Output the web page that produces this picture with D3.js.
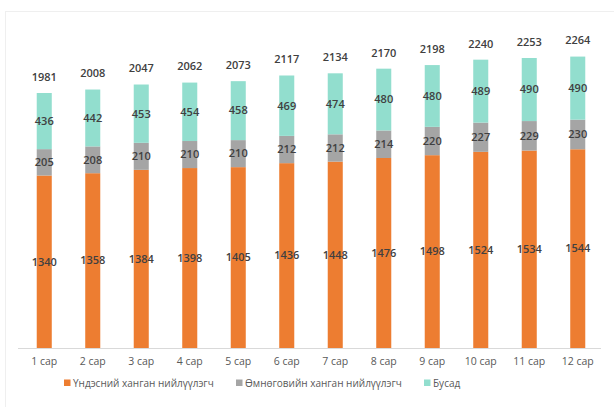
<!DOCTYPE html>
<html>
<head>
<meta charset="utf-8">
<script src="https://cdn.jsdelivr.net/npm/d3@7"></script>
<style>
  body { margin: 0; background: #fff; }
  text { font-family: "Open Sans", "Noto Sans", sans-serif; }
</style>
</head>
<body>
<div id="chart"></div>
<script>
const months = ["1 сар", "2 сар", "3 сар", "4 сар", "5 сар", "6 сар",
  "7 сар", "8 сар", "9 сар", "10 сар", "11 сар", "12 сар"];
const national = [1340, 1358, 1384, 1398, 1405, 1436, 1448, 1476, 1498, 1524, 1534, 1544];
const southGobi = [205, 208, 210, 210, 210, 212, 212, 214, 220, 227, 229, 230];
const other = [436, 442, 453, 454, 458, 469, 474, 480, 480, 489, 490, 490];
const totals = [1981, 2008, 2047, 2062, 2073, 2117, 2134, 2170, 2198, 2240, 2253, 2264];
const seriesNames = ["Үндэсний ханган нийлүүлэгч", "Өмнөговийн ханган нийлүүлэгч", "Бусад"];
const seriesColors = ["#ed7d31", "#a5a5a5", "#92dece"];

const width = 614, height = 407;
const baseY = 348;

const rows = months.map((m, i) => ({
  month: m, s0: national[i], s1: southGobi[i], s2: other[i], total: totals[i]
}));
const stack = d3.stack().keys(["s0", "s1", "s2"])(rows);

const x = d3.scaleBand().domain(months).range([20, 602]).paddingInner(0.69).paddingOuter(0.345);
const y = d3.scaleLinear().domain([0, 2500]).range([baseY, 26.2]);

const svg = d3.select("#chart").append("svg")
  .attr("width", width).attr("height", height);

// faint chart frame
svg.append("rect")
  .attr("x", 5.5).attr("y", 11.5)
  .attr("width", 700).attr("height", 500)
  .attr("fill", "none").attr("stroke", "#efefef");

// baseline
svg.append("line")
  .attr("x1", 18).attr("x2", 601)
  .attr("y1", baseY + 0.5).attr("y2", baseY + 0.5)
  .attr("stroke", "#d9d9d9");

const layers = svg.append("g").selectAll("g")
  .data(stack).join("g")
  .attr("fill", (d, i) => seriesColors[i]);

layers.selectAll("rect")
  .data(d => d).join("rect")
  .attr("x", d => x(d.data.month))
  .attr("width", x.bandwidth())
  .attr("y", d => y(d[1]))
  .attr("height", d => y(d[0]) - y(d[1]));

// segment labels
layers.selectAll("text")
  .data(d => d).join("text")
  .attr("x", d => x(d.data.month) + x.bandwidth() / 2)
  .attr("y", d => (y(d[0]) + y(d[1])) / 2)
  .attr("dy", "0.35em")
  .attr("text-anchor", "middle")
  .attr("font-size", 11)
  .attr("font-weight", 600)
  .attr("fill", "#404040")
  .text(d => d[1] - d[0]);

// totals
svg.append("g").selectAll("text")
  .data(rows).join("text")
  .attr("x", d => x(d.month) + x.bandwidth() / 2)
  .attr("y", d => y(d.total) - 16)
  .attr("dy", "0.35em")
  .attr("text-anchor", "middle")
  .attr("font-size", 11)
  .attr("font-weight", 600)
  .attr("fill", "#404040")
  .text(d => d.total);

// x axis labels
const xAxis = svg.append("g")
  .attr("transform", `translate(0,${baseY})`)
  .call(d3.axisBottom(x).tickSize(0).tickPadding(10));
xAxis.select(".domain").remove();
xAxis.selectAll("text")
  .attr("font-size", 10.5)
  .attr("fill", "#595959")
  .style("font-family", "'Open Sans', sans-serif");

// legend
const legendX = [64, 236, 424];
const legend = svg.append("g").selectAll("g")
  .data(seriesNames).join("g")
  .attr("transform", (d, i) => `translate(${legendX[i]},383)`);
legend.append("rect")
  .attr("x", 0).attr("y", -3.5)
  .attr("width", 6.5).attr("height", 6.5)
  .attr("fill", (d, i) => seriesColors[i]);
legend.append("text")
  .attr("x", 9).attr("dy", "0.35em")
  .attr("font-size", 10)
  .attr("fill", "#595959")
  .text(d => d);
</script>
</body>
</html>
